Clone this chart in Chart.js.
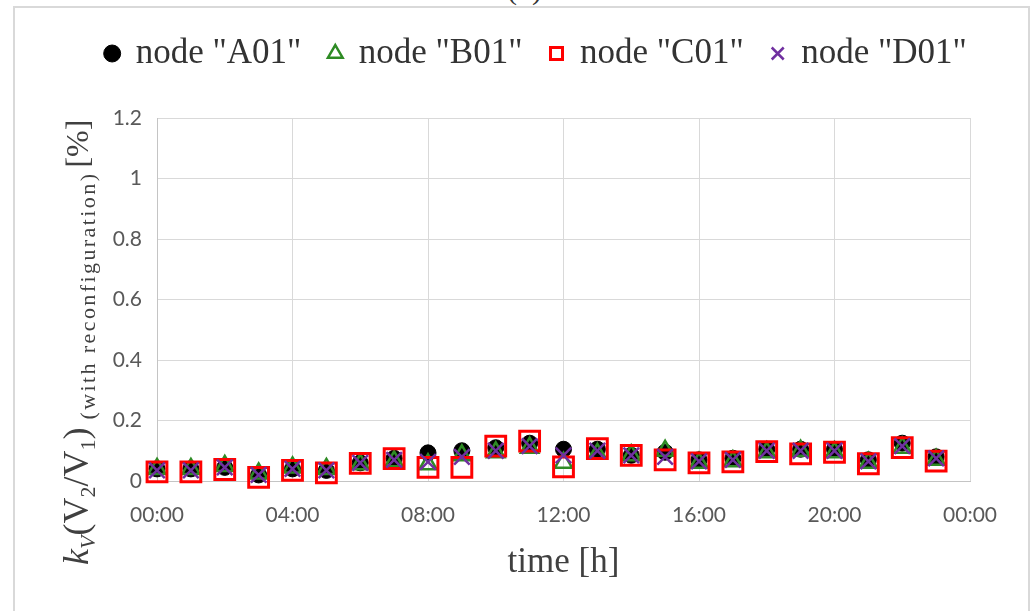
<!DOCTYPE html>
<html>
<head>
<meta charset="utf-8">
<script src="https://cdn.jsdelivr.net/npm/chart.js@4.4.1/dist/chart.umd.min.js"></script>
<style>
  html, body { margin: 0; padding: 0; background: #fff; }
  body { width: 1035px; height: 611px; overflow: hidden; position: relative; }
  #tag { position: absolute; top: -26px; left: 507px; font: 30px "Liberation Serif", serif; line-height: 30px; color: #333; }
  #frame { position: absolute; left: 13px; top: 6px; width: 1013px; height: 640px; border: 2px solid #d9d9d9; }
  #wrap { position: absolute; left: 0; top: 0; width: 1013px; height: 603px; }
</style>
</head>
<body>
<div id="tag">(b)</div>
<div id="frame">
  <div id="wrap"><canvas id="chart"></canvas></div>
</div>
<script>
// hours of the day and values [%]
var hours = [0, 1, 2, 3, 4, 5, 6, 7, 8, 9, 10, 11, 12, 13, 14, 15, 16, 17, 18, 19, 20, 21, 22, 23];
var nodeA = [0.04, 0.04, 0.045, 0.02, 0.04, 0.035, 0.06, 0.075, 0.093, 0.10, 0.11, 0.125, 0.105, 0.105, 0.085, 0.095, 0.07, 0.075, 0.105, 0.105, 0.105, 0.07, 0.125, 0.08];
var nodeB = [0.04, 0.04, 0.05, 0.025, 0.045, 0.04, 0.055, 0.065, 0.055, 0.085, 0.095, 0.11, 0.06, 0.09, 0.085, 0.10, 0.06, 0.065, 0.095, 0.10, 0.095, 0.06, 0.11, 0.07];
var nodeC = [0.03, 0.03, 0.038, 0.012, 0.035, 0.027, 0.058, 0.074, 0.045, 0.045, 0.115, 0.132, 0.047, 0.107, 0.085, 0.07, 0.06, 0.063, 0.097, 0.09, 0.095, 0.057, 0.11, 0.066];
var nodeD = [0.035, 0.035, 0.045, 0.02, 0.04, 0.035, 0.06, 0.07, 0.063, 0.08, 0.10, 0.115, 0.085, 0.10, 0.085, 0.08, 0.065, 0.07, 0.10, 0.10, 0.10, 0.065, 0.115, 0.075];
var labels = ['node "A01"', 'node "B01"', 'node "C01"', 'node "D01"'];
var yTicks = { min: 0, max: 1.2, step: 0.2 };
var xTicks = { min: 0, max: 24, step: 4 };

var SERIF = '"Liberation Serif", "DejaVu Serif", serif';

function pts(arr) {
    return hours.map(function (h, i) { return { x: h, y: arr[i] }; });
}

// legend gets a fixed height and is nudged right, like the original
var legendTweak = {
    id: "legendTweak",
    beforeLayout: function (chart) {
        var lg = chart.legend;
        if (lg && !lg._patched) {
            var fit = lg.fit;
            lg.fit = function () { fit.call(this); this.height = 110; };
            lg._patched = true;
        }
    },
    afterLayout: function (chart) {
        chart.legend.left += 44;
        chart.legend.right += 44;
    }
};

// y axis title with sub scripts, drawn by hand
var yTitle = {
    id: "yTitle",
    afterDraw: function (chart) {
        var ctx = chart.ctx;
        var x = 0;
        ctx.save();
        ctx.translate(73, 557);
        ctx.rotate(-Math.PI / 2);
        ctx.fillStyle = "#404040";
        ctx.textAlign = "left";
        ctx.textBaseline = "alphabetic";
        function part(text, font, dy, spacing) {
            ctx.font = font;
            ctx.letterSpacing = (spacing || 0) + "px";
            ctx.fillText(text, x, dy);
            x += ctx.measureText(text).width;
        }
        part("k", "italic 36px " + SERIF, 0);
        part("V", "italic 22px " + SERIF, 7);
        part("(V", "36px " + SERIF, 0);
        part("2", "22px " + SERIF, 7);
        part("/V", "36px " + SERIF, 0);
        part("1", "22px " + SERIF, 7);
        part(")", "36px " + SERIF, 0);
        x += 8;
        var sub = "(with reconfiguration)";
        ctx.font = "22px " + SERIF;
        ctx.letterSpacing = "0px";
        var sp = (248 - ctx.measureText(sub).width) / sub.length;
        part(sub, "22px " + SERIF, 7, sp);
        x += 4;
        part("[%]", "32px " + SERIF, 0);
        ctx.restore();
    }
};

var chart = new Chart(document.getElementById("chart").getContext("2d"), {
    type: "scatter",
    data: {
        datasets: [{
            label: labels[0],
            data: pts(nodeA),
            pointStyle: "circle",
            pointRadius: 8,
            pointHoverRadius: 8,
            backgroundColor: "#000000",
            borderColor: "#000000",
            pointBorderWidth: 1,
            clip: false,
            order: 3
        }, {
            label: labels[1],
            data: pts(nodeB),
            pointStyle: "triangle",
            pointRadius: 10,
            pointHoverRadius: 10,
            backgroundColor: "rgba(0,0,0,0)",
            borderColor: "#2E8B24",
            pointBorderWidth: 2.5,
            clip: false,
            order: 2
        }, {
            label: labels[2],
            data: pts(nodeC),
            pointStyle: "rect",
            pointRadius: 14,
            pointHoverRadius: 14,
            backgroundColor: "rgba(0,0,0,0)",
            borderColor: "#FF0000",
            pointBorderWidth: 3,
            clip: false,
            order: 1
        }, {
            label: labels[3],
            data: pts(nodeD),
            pointStyle: "crossRot",
            pointRadius: 11,
            pointHoverRadius: 11,
            backgroundColor: "#7030A0",
            borderColor: "#7030A0",
            pointBorderWidth: 2.5,
            clip: false,
            order: 0
        }]
    },
    options: {
        responsive: true,
        maintainAspectRatio: false,
        animation: false,
        layout: { padding: { top: 0, left: 0, right: 58, bottom: 0 } },
        plugins: {
            tooltip: { enabled: false },
            legend: {
                position: "top",
                reverse: true,
                labels: {
                    usePointStyle: true,
                    boxWidth: 12,
                    boxHeight: 12,
                    padding: 28,
                    color: "#333333",
                    font: { family: SERIF, size: 35 }
                }
            }
        },
        scales: {
            x: {
                type: "linear",
                min: xTicks.min,
                max: xTicks.max,
                afterFit: function (s) { s.height = 130; },
                grid: { color: "#d9d9d9", drawTicks: false },
                border: { color: "#c4c4c4" },
                ticks: {
                    stepSize: xTicks.step,
                    padding: 22,
                    color: "#595959",
                    font: { family: "Lato", size: 21 },
                    maxRotation: 0,
                    callback: function (v) { return String(v % 24).padStart(2, "0") + ":00"; }
                },
                title: {
                    display: true,
                    text: "time [h]",
                    color: "#404040",
                    font: { family: SERIF, size: 35 },
                    padding: { top: 0, bottom: 27 }
                }
            },
            y: {
                min: yTicks.min,
                max: yTicks.max,
                afterFit: function (s) { s.width = 142; },
                grid: { color: "#d9d9d9", drawTicks: false },
                border: { color: "#c4c4c4" },
                ticks: {
                    stepSize: yTicks.step,
                    padding: 15,
                    color: "#595959",
                    font: { family: "Lato", size: 21 },
                    callback: function (v) { return String(+v.toFixed(1)); }
                }
            }
        }
    },
    plugins: [legendTweak, yTitle]
});
</script>
</body>
</html>
